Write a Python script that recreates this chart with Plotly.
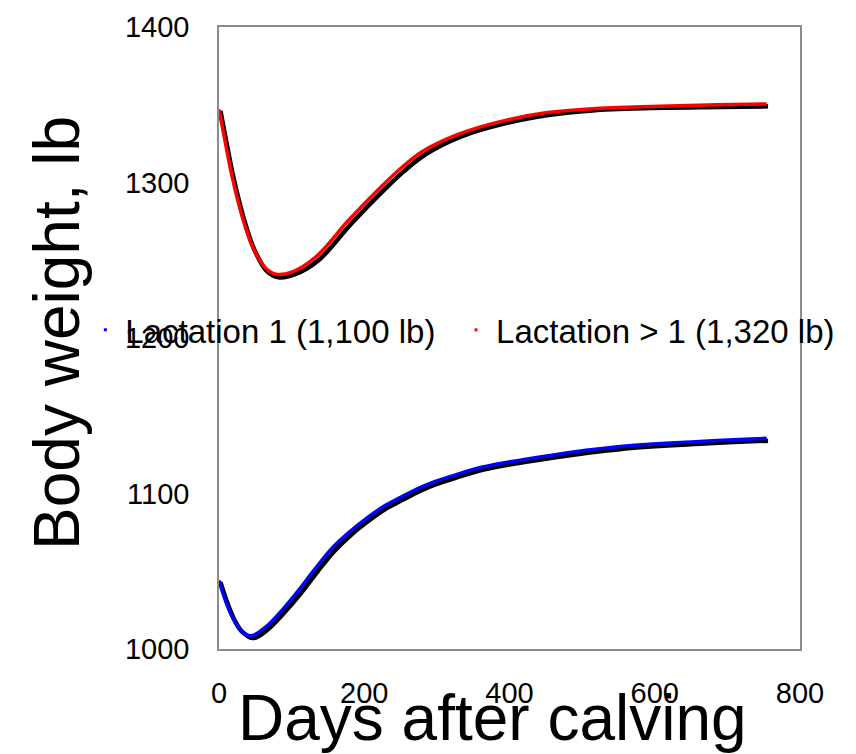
import plotly.graph_objects as go

# Lactation 1 (blue)
days_l1 = [0, 9, 18, 30, 44, 64, 87, 110, 133, 156, 179, 203, 226, 250, 273, 296, 319, 363, 456, 549, 642, 754]
bw_l1 = [1044, 1031, 1021, 1012, 1008.5, 1014, 1025, 1038, 1052, 1065, 1075, 1084, 1091.5, 1097.5, 1103, 1107.5, 1111, 1117, 1124.5, 1130, 1133, 1135.5]

# Lactation > 1 (red)
days_l2 = [0, 9, 18, 32, 46, 64, 78, 101, 133, 179, 225, 250, 280, 329, 390, 452, 514, 606, 686, 754]
bw_l2 = [1347, 1325, 1304, 1278, 1259, 1245, 1241, 1242.5, 1252, 1276, 1298, 1309, 1320, 1331, 1339.5, 1345, 1347.5, 1349, 1350, 1350.5]

# Black companion curves (no legend)
days_k1 = [2, 12, 22, 32, 47, 67, 90, 113, 136, 159, 182, 206, 229, 253, 276, 299, 322, 366, 459, 552, 645, 756]
bw_k1 = [1043, 1029, 1018, 1011, 1007, 1012.5, 1023.5, 1036, 1050, 1063, 1073.5, 1082.5, 1090, 1096, 1101.5, 1106, 1109.5, 1115.5, 1123, 1128.5, 1131.5, 1134]
days_k2 = [2, 11, 20, 34, 48, 66, 82, 105, 137, 183, 229, 254, 284, 333, 394, 456, 518, 610, 690, 756]
bw_k2 = [1346, 1324, 1303, 1277, 1257.5, 1243, 1239, 1241, 1250, 1274, 1296, 1307, 1318, 1329.5, 1338, 1343.5, 1346.5, 1348, 1348.5, 1349]

names = ["Lactation 1 (1,100 lb)", "Lactation > 1 (1,320 lb)"]
x_ticks = [0, 200, 400, 600, 800]
y_ticks = [1000, 1100, 1200, 1300, 1400]

FONT = "Liberation Sans, Arial, Helvetica, sans-serif"

fig = go.Figure()
fig.add_trace(go.Scatter(x=days_k1, y=bw_k1, mode="lines", line=dict(color="black", width=4.5, shape="spline"), showlegend=False, hoverinfo="skip"))
fig.add_trace(go.Scatter(x=days_k2, y=bw_k2, mode="lines", line=dict(color="black", width=4.5, shape="spline"), showlegend=False, hoverinfo="skip"))
fig.add_trace(go.Scatter(x=days_l1, y=bw_l1, mode="lines", line=dict(color="#0000ff", width=3.5, shape="spline"), showlegend=False))
fig.add_trace(go.Scatter(x=days_l2, y=bw_l2, mode="lines", line=dict(color="#ff0000", width=3.5, shape="spline"), showlegend=False))
# legend entries (small dot markers as in the original)
fig.add_trace(go.Scatter(x=[None], y=[None], mode="markers", name=names[0], legend="legend",
                         marker=dict(color="#0000ff", size=3, symbol="square")))
fig.add_trace(go.Scatter(x=[None], y=[None], mode="markers", name=names[1], legend="legend2",
                         marker=dict(color="#ff0000", size=3, symbol="square")))

axis_common = dict(
    showgrid=False, zeroline=False, showline=True, linecolor="#8c8c8c", linewidth=1.5,
    mirror=True, ticks="", tickfont=dict(size=29, color="black", family=FONT),
)
fig.update_xaxes(range=[0, 800], tickvals=x_ticks, ticktext=[str(v) for v in x_ticks], ticklabelstandoff=17, **axis_common)
fig.update_yaxes(range=[1000, 1400], tickvals=y_ticks, ticktext=[str(v) for v in y_ticks], ticklabelstandoff=22, **axis_common)

leg_common = dict(orientation="h", xanchor="left", yanchor="middle", y=0.513,
                  bgcolor="rgba(0,0,0,0)", font=dict(size=33, family=FONT, color="black"),
                  borderwidth=0)

fig.update_layout(
    width=856, height=754,
    margin=dict(l=219, r=56, t=27, b=105),
    paper_bgcolor="white", plot_bgcolor="white",
    font=dict(family=FONT, color="black"),
    legend=dict(x=-0.230, **leg_common),
    legend2=dict(x=0.408, **leg_common),
    annotations=[
        dict(text="Days after calving", xref="paper", yref="paper", x=0.47, y=-0.111,
             xanchor="center", yanchor="middle", showarrow=False, font=dict(size=64, family=FONT)),
        dict(text="Body weight, lb", xref="paper", yref="paper", x=-0.279, y=0.508,
             xanchor="center", yanchor="middle", textangle=-90, showarrow=False, font=dict(size=64, family=FONT)),
    ],
)

fig.write_html("out.html")
